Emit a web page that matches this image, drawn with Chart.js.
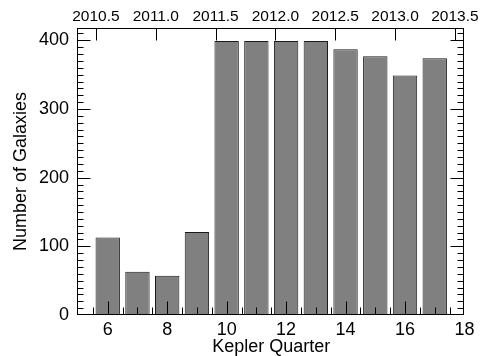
<!DOCTYPE html>
<html><head><meta charset="utf-8">
<script src="https://cdn.jsdelivr.net/npm/chart.js@4"></script>
<style>html,body{margin:0;padding:0;background:#fff}#wrap{width:481px;height:356px}</style>
</head><body><div id="wrap"><canvas id="c" width="481" height="356"></canvas></div>
<script>
const quarters = [6, 7, 8, 9, 10, 11, 12, 13, 14, 15, 16, 17];
const galaxies = [113, 63, 57, 121, 399, 399, 399, 399, 387, 377, 349, 374];
const xTicks = [6, 8, 10, 12, 14, 16, 18];
const yTicks = [0, 100, 200, 300, 400];
const yearTicks = [2010.5, 2011.0, 2011.5, 2012.0, 2012.5, 2013.0, 2013.5];
const yearLabels = ['2010.5', '2011.0', '2011.5', '2012.0', '2012.5', '2013.0', '2013.5'];

const frameTicks = {
  id: 'frameTicks',
  afterDatasetsDraw(chart) {
    const {ctx, chartArea: a, scales} = chart;
    const X = scales.x, Y = scales.y, T = scales.top;
    const L = Math.round(a.left) - 0.5, R = Math.round(a.right) - 0.5;
    const Tp = Math.round(a.top) + 0.5, B = Math.round(a.bottom) - 0.5;
    ctx.save();
    ctx.strokeStyle = '#000';
    ctx.lineWidth = 1;
    ctx.beginPath();
    for (let v = 5.5; v < 18; v += 0.5) {
      const px = Math.round(X.getPixelForValue(v)) + 0.5;
      const len = (v % 2 === 0) ? 13 : 7;
      ctx.moveTo(px, B); ctx.lineTo(px, B - len);
    }
    for (let v = 10; v < Y.max; v += 10) {
      const py = Math.round(Y.getPixelForValue(v)) + 0.5;
      const len = (v % 100 === 0) ? 13 : 6;
      ctx.moveTo(L, py); ctx.lineTo(L + len, py);
      ctx.moveTo(R, py); ctx.lineTo(R - len, py);
    }
    yearTicks.forEach(v => {
      const px = Math.round(T.getPixelForValue(v)) + 0.5;
      ctx.moveTo(px, Tp); ctx.lineTo(px, Tp + 12);
    });
    ctx.stroke();
    ctx.strokeRect(L, Tp, R - L, B - Tp);
    ctx.restore();
  }
};

const font18 = {family: "'Liberation Sans', Arial, Helvetica, sans-serif", size: 18};

new Chart(document.getElementById('c'), {
  type: 'bar',
  data: {
    datasets: [{
      data: quarters.map((q, i) => ({x: q, y: galaxies[i]})),
      backgroundColor: '#808080',
      borderColor: '#1a1a1a',
      borderWidth: 1,
      borderSkipped: false,
      barPercentage: 0.82,
      categoryPercentage: 1.0,
      xAxisID: 'x',
      yAxisID: 'y'
    }]
  },
  options: {
    responsive: false,
    animation: false,
    layout: {padding: {left: 0, right: 16, top: 0, bottom: 0}},
    plugins: {legend: {display: false}, tooltip: {enabled: false}},
    scales: {
      x: {
        type: 'linear', position: 'bottom', min: 5, max: 18, offset: false,
        grid: {display: false, drawTicks: false}, border: {display: false},
        afterBuildTicks: s => { s.ticks = xTicks.map(v => ({value: v})); },
        afterFit: s => { s.height = 41; },
        ticks: {color: '#000', font: font18, padding: 4, autoSkip: false, maxRotation: 0},
        title: {display: true, text: 'Kepler Quarter', color: '#000',
                font: {family: font18.family, size: 18, lineHeight: 1}, padding: {top: 0, bottom: 0}}
      },
      top: {
        type: 'linear', position: 'top', axis: 'x', min: 2010.35, max: 2013.58, offset: false,
        grid: {display: false, drawTicks: false}, border: {display: false},
        afterBuildTicks: s => { s.ticks = yearTicks.map(v => ({value: v})); },
        afterFit: s => { s.height = 28; },
        ticks: {color: '#000', font: {family: "'Liberation Sans Narrow', 'Liberation Sans', Arial, sans-serif", size: 15.5},
                padding: 2, autoSkip: false, maxRotation: 0,
                callback: (v, i) => yearLabels[i]}
      },
      y: {
        type: 'linear', position: 'left', min: 0, max: 418,
        grid: {display: false, drawTicks: false}, border: {display: false},
        afterBuildTicks: s => { s.ticks = yTicks.map(v => ({value: v})); },
        afterFit: s => { s.width = 78; },
        ticks: {color: '#000', font: font18, padding: 9},
        title: {display: true, text: 'Number of Galaxies', color: '#000',
                font: {family: font18.family, size: 18, lineHeight: 1.2}, padding: {top: 10, bottom: 0}}
      }
    }
  },
  plugins: [frameTicks]
});
</script></body></html>
